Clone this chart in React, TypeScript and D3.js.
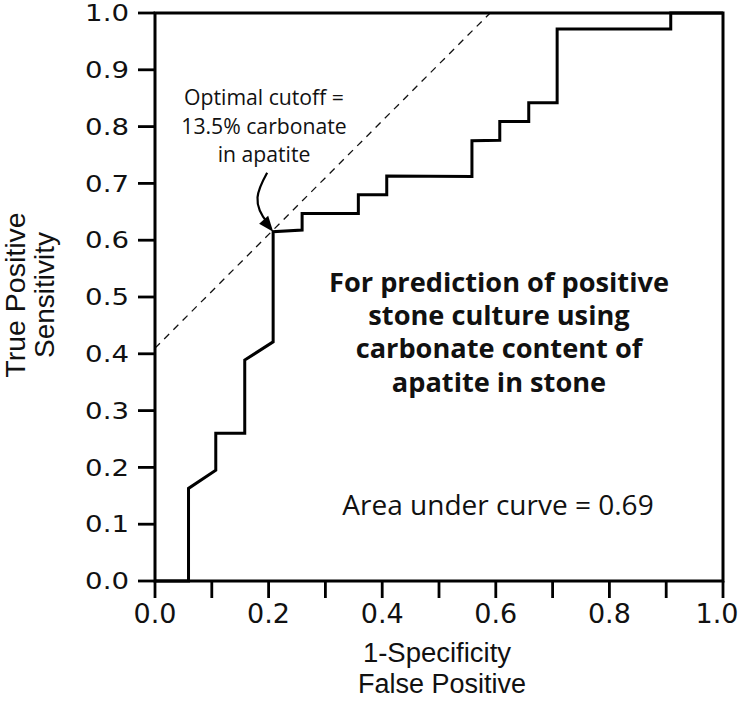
import React from "react";
import * as d3 from "d3";

const fpr = [0, 0.059, 0.059, 0.107, 0.107, 0.158, 0.158, 0.208, 0.208, 0.259, 0.259, 0.358, 0.358, 0.408, 0.408, 0.558, 0.558, 0.607, 0.607, 0.658, 0.658, 0.708, 0.708, 0.908, 0.908, 1.0];
const tpr = [0, 0, 0.163, 0.195, 0.26, 0.26, 0.389, 0.421, 0.615, 0.618, 0.647, 0.647, 0.68, 0.68, 0.713, 0.712, 0.775, 0.776, 0.809, 0.809, 0.842, 0.842, 0.972, 0.972, 1.0, 1.0];
const refX = [0, 0.59];
const refY = [0.41, 1.0];
const cutoff = { x: 0.208, y: 0.615 };
const xTicks = d3.range(0, 11).map((i) => i / 10);
const xTickLabels = ["0.0", "0.2", "0.4", "0.6", "0.8", "1.0"];
const yTicks = d3.range(0, 11).map((i) => i / 10);
const yTickLabels = ["0.0", "0.1", "0.2", "0.3", "0.4", "0.5", "0.6", "0.7", "0.8", "0.9", "1.0"];
const annotationLines = ["Optimal cutoff =", "13.5% carbonate", "in apatite"];
const titleLines = ["For prediction of positive", "stone culture using", "carbonate content of", "apatite in stone"];
const aucText = "Area under curve = 0.69";
const xTitle = ["1-Specificity", "False Positive"];
const yTitle = ["True Positive", "Sensitivity"];

export default function App() {
  const W = 741, H = 701;
  const x = d3.scaleLinear().domain([0, 1]).range([155, 723]);
  const y = d3.scaleLinear().domain([0, 1]).range([581, 13]);
  const pts: [number, number][] = fpr.map((f, i) => [f, tpr[i]]);
  const line = d3.line<[number, number]>().x((d) => x(d[0])).y((d) => y(d[1]));
  const refPts: [number, number][] = refX.map((v, i) => [v, refY[i]]);
  const tipX = x(cutoff.x), tipY = y(cutoff.y);
  const axisFont = "'DejaVu Sans', sans-serif";
  const titleFont = "'Liberation Sans', Arial, sans-serif";
  const annFont = "'Open Sans', 'Noto Sans', sans-serif";
  const tail = [tipX - 6, tipY - 59];
  const arrowPath = `M${tail[0]},${tail[1]} C${tail[0] - 10},${tail[1] + 18} ${tipX - 22},${tipY - 28} ${tipX - 5},${tipY - 8}`;
  return (
    <svg width={W} height={H} style={{ position: "absolute", left: 0, top: 0, background: "#fff" }}>
      <rect x={0} y={0} width={W} height={H} fill="#fff" />
      <path d={line(refPts) || ""} fill="none" stroke="#111" strokeWidth={1.3} strokeDasharray="7,6" />
      <rect x={x(0)} y={y(1)} width={x(1) - x(0)} height={y(0) - y(1)} fill="none" stroke="#000" strokeWidth={3} />
      {yTicks.map((t, i) => (
        <g key={"yt" + i}>
          <line x1={x(0) - 17} x2={x(0)} y1={y(t)} y2={y(t)} stroke="#000" strokeWidth={2.8} />
          <text
            transform={`translate(${x(0) - 26},${y(t)}) scale(1.2,1)`}
            textAnchor="end"
            dominantBaseline="central"
            fontFamily={axisFont}
            fontSize={23}
            fill="#111"
          >
            {yTickLabels[i]}
          </text>
        </g>
      ))}
      {xTicks.map((t, i) => (
        <g key={"xt" + i}>
          <line x1={x(t)} x2={x(t)} y1={y(0)} y2={y(0) + 17} stroke="#000" strokeWidth={2.8} />
          {i % 2 === 0 ? (
            <text x={Math.min(x(t), W - 24)} y={623} textAnchor="middle" fontFamily={axisFont} fontSize={27} fill="#111">
              {xTickLabels[i / 2]}
            </text>
          ) : null}
        </g>
      ))}
      <path d={line(pts) || ""} fill="none" stroke="#000" strokeWidth={3} strokeLinejoin="miter" />
      <text x={437} y={662} textAnchor="middle" fontFamily={titleFont} fontSize={27.5} fill="#111">{xTitle[0]}</text>
      <text x={442} y={693} textAnchor="middle" fontFamily={titleFont} fontSize={27} fill="#111">{xTitle[1]}</text>
      <text transform="translate(25,295) rotate(-90)" textAnchor="middle" fontFamily={titleFont} fontSize={28.5} fill="#111">{yTitle[0]}</text>
      <text transform="translate(54,295) rotate(-90)" textAnchor="middle" fontFamily={titleFont} fontSize={28} fill="#111">{yTitle[1]}</text>
      {annotationLines.map((s, i) => (
        <text key={"an" + i} x={264} y={105 + i * 28.5} textAnchor="middle" fontFamily={annFont} fontSize={21.2} fill="#111">{s}</text>
      ))}
      <path d={arrowPath} fill="none" stroke="#000" strokeWidth={2.2} />
      <path d={`M${tipX},${tipY} L${tipX - 14},${tipY - 8} L${tipX - 5},${tipY - 16} Z`} fill="#000" />
      {titleLines.map((s, i) => (
        <text key={"tl" + i} x={499} y={291.5 + i * 33.4} textAnchor="middle" fontFamily={annFont} fontWeight={700} fontSize={27.2} fill="#111">{s}</text>
      ))}
      <text x={498} y={515} textAnchor="middle" fontFamily={annFont} fontSize={28} fill="#111">{aucText}</text>
    </svg>
  );
}
